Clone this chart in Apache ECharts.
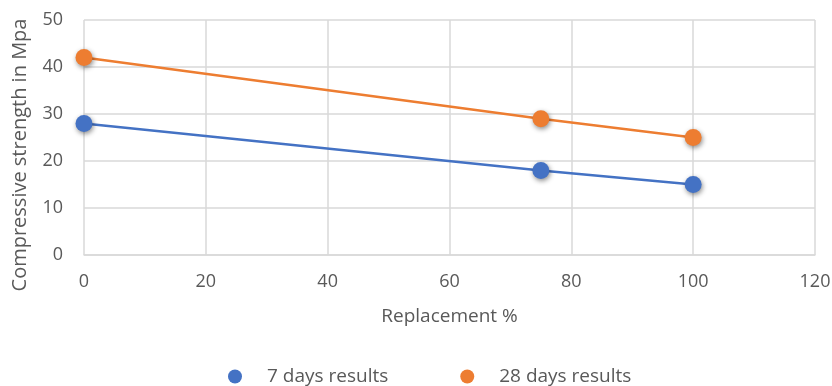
<!DOCTYPE html>
<html>
<head>
<meta charset="utf-8">
<script src="https://cdn.jsdelivr.net/npm/echarts@6/dist/echarts.min.js"></script>
<style>
  html, body { margin: 0; padding: 0; background: #fff; }
  #chart { width: 832px; height: 386px; }
</style>
</head>
<body>
<div id="chart"></div>
<script>
// Replacement percentages and compressive strengths (MPa)
const replacement = [0, 75, 100];
const sevenDays = [28, 18, 15];
const twentyEightDays = [42, 29, 25];
const seriesNames = ['7 days results', '28 days results'];

const FONT = '"Open Sans", Lato, sans-serif';
const TEXT = '#595959';
const GRID = '#d9d9d9';

const pairs = vals => replacement.map((x, i) => [x, vals[i]]);

const markerStyle = color => ({
  color: color,
  shadowColor: 'rgba(0,0,0,0.45)',
  shadowBlur: 5,
  shadowOffsetX: 1,
  shadowOffsetY: 2
});

const chart = echarts.init(document.getElementById('chart'));
chart.setOption({
  animation: false,
  grid: {
    left: 84, right: 17, top: 20, bottom: 131,
    containLabel: false,
    outerBoundsMode: 'none'
  },
  legend: {
    bottom: 0,
    left: 228,
    padding: 0,
    itemGap: 72,
    itemWidth: 14,
    itemHeight: 14,
    icon: 'circle',
    textStyle: { color: TEXT, fontSize: 19, fontFamily: FONT, padding: [0, 0, 0, 20] },
    data: seriesNames
  },
  xAxis: {
    type: 'value',
    min: 0, max: 120, interval: 20,
    name: 'Replacement %',
    nameLocation: 'middle',
    nameGap: 52,
    nameTextStyle: { color: TEXT, fontSize: 19, fontFamily: FONT },
    axisLine: { show: true, lineStyle: { color: GRID, width: 1.5 } },
    axisTick: { show: false },
    axisLabel: { color: TEXT, fontSize: 18, fontFamily: FONT, margin: 18 },
    splitLine: { show: true, lineStyle: { color: GRID, width: 1.5 } }
  },
  yAxis: {
    type: 'value',
    min: 0, max: 50, interval: 10,
    name: 'Compressive strength in Mpa',
    nameLocation: 'middle',
    nameGap: 54,
    // extra trailing padding nudges the rotated title downward
    nameTextStyle: { color: TEXT, fontSize: 20, fontFamily: FONT, padding: [0, 35, 0, 0] },
    axisLine: { show: false },
    axisTick: { show: false },
    axisLabel: { color: TEXT, fontSize: 18, fontFamily: FONT, margin: 21 },
    splitLine: { show: true, lineStyle: { color: GRID, width: 1.5 } }
  },
  series: [
    {
      name: seriesNames[0],
      type: 'line',
      data: pairs(sevenDays),
      symbol: 'circle',
      symbolSize: 17,
      color: '#4472C4',
      lineStyle: { color: '#4472C4', width: 2.5 },
      itemStyle: markerStyle('#4472C4')
    },
    {
      name: seriesNames[1],
      type: 'line',
      data: pairs(twentyEightDays),
      symbol: 'circle',
      symbolSize: 17,
      color: '#ED7D31',
      lineStyle: { color: '#ED7D31', width: 2.5 },
      itemStyle: markerStyle('#ED7D31')
    }
  ]
});
</script>
</body>
</html>
